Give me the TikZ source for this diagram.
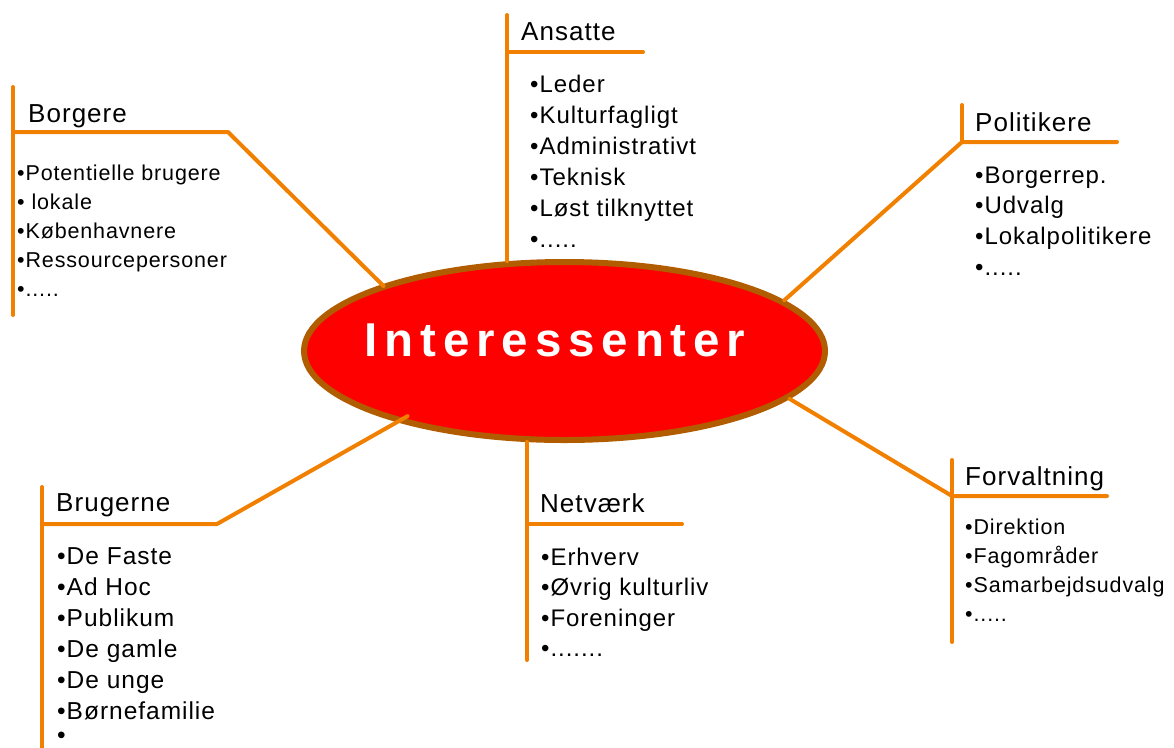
\documentclass[tikz,border=0pt]{standalone}
\usepackage{fontspec}
\setmainfont{Liberation Sans}[LetterSpace=4]
\usetikzlibrary{shapes.geometric}
\definecolor{lineor}{RGB}{242,128,0}
\definecolor{rimbrown}{RGB}{178,92,0}
\definecolor{hubred}{RGB}{255,0,0}
\newcommand{\fivedots}{.....}
\newcommand{\sevendots}{.......}
\begin{document}
\begin{tikzpicture}[x=1pt,y=-1pt,
  conn/.style={draw=lineor,line width=4pt,line cap=round,line join=round},
  head/.style={anchor=base west,inner sep=0pt,font=\fontsize{26}{30}\selectfont},
  listline/.style={anchor=base west,inner sep=0pt,font=\fontsize{#1}{#1}\selectfont}]
\useasboundingbox (0,0) rectangle (1174,747);

% central ellipse
\node[ellipse, draw=rimbrown, fill=hubred, line width=6pt,
      minimum width=521pt, minimum height=178pt, inner sep=0pt] (hub) at (564.5,351) {};
\node[text=white, inner sep=0pt,
      font=\fontsize{47.5}{50}\selectfont\bfseries\addfontfeature{LetterSpace=14.5}]
      (title) at (555,340) {Interessenter};

% Borgere
\coordinate (boTop) at (13,87); \coordinate (boBot) at (13,315);
\coordinate (boJ) at (13,132); \coordinate (boK) at (228,132);
\draw[conn] (boTop) -- (boBot);
\draw[conn,shorten >=-2pt] (boJ) -- (boK) -- (hub.160.6);
\node[head] (boH) at (28,122) {Borgere};
\foreach \t [count=\i from 0] in {•Potentielle brugere,• lokale,•Københavnere,•Ressourcepersoner,{•\fivedots}}
  \node[listline=21.5] (bo\i) at (17,{180+29.2*\i}) {\t};

% Ansatte
\coordinate (anTop) at (507,15); \coordinate (anJ) at (507,52); \coordinate (anE) at (643,52);
\draw[conn] (anTop) -- (anTop |- hub.122.6);
\draw[conn] (anJ) -- (anE);
\node[head] (anH) at (521,40) {Ansatte};
\foreach \t [count=\i from 0] in {•Leder,•Kulturfagligt,•Administrativt,•Teknisk,•Løst tilknyttet,{•\fivedots}}
  \node[listline=24] (an\i) at (530,{92+31*\i}) {\t};

% Politikere
\coordinate (poTop) at (962,105); \coordinate (poJ) at (962,142); \coordinate (poE) at (1117,142);
\draw[conn] (poTop) -- (poJ);
\draw[conn] (poE) -- (poJ) -- (hub.13.6);
\node[head] (poH) at (975,131) {Politikere};
\foreach \t [count=\i from 0] in {{•Borgerrep.},•Udvalg,•Lokalpolitikere,{•\fivedots}}
  \node[listline=24] (po\i) at (975,{183+30.7*\i}) {\t};

% Forvaltning
\coordinate (foTop) at (952,460); \coordinate (foBot) at (952,642);
\coordinate (foJ) at (952,496); \coordinate (foE) at (1107,496);
\draw[conn] (foTop) -- (foBot);
\draw[conn] (foE) -- (foJ) -- (hub.348.8);
\node[head] (foH) at (965,485) {Forvaltning};
\foreach \t [count=\i from 0] in {•Direktion,•Fagområder,•Samarbejdsudvalg,{•\fivedots}}
  \node[listline=21.5] (fo\i) at (965,{534+29.3*\i}) {\t};

% Brugerne
\coordinate (brTop) at (42,487); \coordinate (brBot) at (42,760);
\coordinate (brJ) at (42,524); \coordinate (brK) at (217,524);
\draw[conn] (brTop) -- (brBot);
\draw[conn,shorten >=-12pt] (brJ) -- (brK) -- (hub.203.1);
\node[head] (brH) at (56,511) {Brugerne};
\foreach \t [count=\i from 0] in {•De Faste,•Ad Hoc,•Publikum,•De gamle,•De unge,•Børnefamilie}
  \node[listline=24.5] (br\i) at (57,{564+31*\i}) {\t};
\node[listline=24.5] (br6) at (57,743) {•};

% Netværk
\coordinate (neBot) at (527,660); \coordinate (neJ) at (527,524); \coordinate (neE) at (682,524);
\draw[conn] (neBot |- hub.247.6) -- (neBot);
\draw[conn] (neJ) -- (neE);
\node[head] (neH) at (540,512) {Netværk};
\foreach \t [count=\i from 0] in {•Erhverv,•Øvrig kulturliv,•Foreninger,{•\sevendots}}
  \node[listline=24] (ne\i) at (541,{565+30.5*\i}) {\t};
\end{tikzpicture}
\end{document}
